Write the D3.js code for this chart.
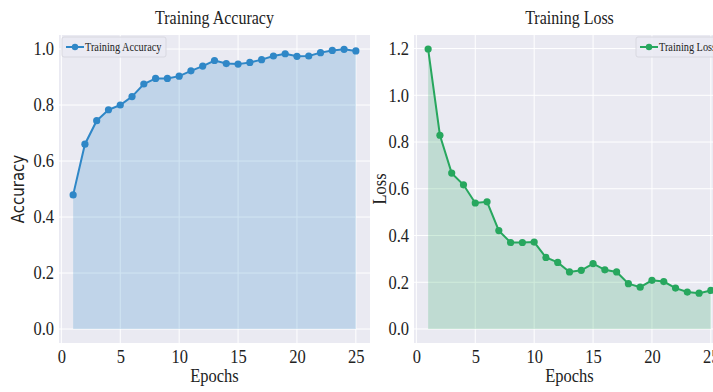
<!DOCTYPE html>
<html><head><meta charset="utf-8">
<script src="https://cdn.jsdelivr.net/npm/d3@7"></script>
<style>html,body{margin:0;padding:0;background:#fff;overflow:hidden}</style>
</head><body>
<svg id="chart" width="713" height="392"></svg>
<script>
const epochs = d3.range(1, 26);
const accuracy = [0.479,0.66,0.744,0.783,0.80,0.83,0.875,0.895,0.895,0.903,0.922,0.939,0.959,0.948,0.946,0.952,0.962,0.975,0.983,0.974,0.975,0.987,0.995,0.999,0.993];
const loss = [1.198,0.829,0.667,0.617,0.539,0.544,0.421,0.370,0.370,0.372,0.306,0.285,0.244,0.251,0.280,0.253,0.244,0.194,0.179,0.208,0.203,0.175,0.158,0.153,0.165];
const xTicks = [0,5,10,15,20,25];
const accTicks = [0.0,0.2,0.4,0.6,0.8,1.0];
const lossTicks = [0.0,0.2,0.4,0.6,0.8,1.0,1.2];

const svg = d3.select("#chart");
const SERIF = "'Liberation Serif','Times New Roman',serif";
const SY = 1.2;

function stretchText(g, x, y, txt, size, anchor, family, rotate) {
  const t = g.append("g").attr("transform", `translate(${x},${y})${rotate ? " rotate(-90)" : ""} scale(1,${SY})`)
    .append("text").attr("text-anchor", anchor).attr("font-family", family || SERIF)
    .attr("font-size", size).attr("fill", "#222").text(txt);
  return t;
}

function panel(o) {
  const g = svg.append("g");
  const x = d3.scaleLinear().domain([-0.2, 26.2]).range([o.left, o.left + 311]);
  const y = d3.scaleLinear().domain(o.ydom).range([343, 35]);
  g.append("rect").attr("x", o.left).attr("y", 35).attr("width", 311).attr("height", 308).attr("fill", "#eaeaf2");
  // grid
  g.selectAll(".gx").data(xTicks).join("line").attr("x1", d => x(d)).attr("x2", d => x(d))
    .attr("y1", 35).attr("y2", 343).attr("stroke", "#fff").attr("stroke-width", 1);
  g.selectAll(".gy").data(o.ticks).join("line").attr("y1", d => y(d)).attr("y2", d => y(d))
    .attr("x1", o.left).attr("x2", o.left + 311).attr("stroke", "#fff").attr("stroke-width", 1);
  const data = epochs.map((e, i) => [e, o.values[i]]);
  g.append("path").datum(data).attr("fill", o.color).attr("fill-opacity", 0.22)
    .attr("d", d3.area().x(d => x(d[0])).y0(y(0)).y1(d => y(d[1])));
  g.append("path").datum(data).attr("fill", "none").attr("stroke", o.color).attr("stroke-width", 2)
    .attr("d", d3.line().x(d => x(d[0])).y(d => y(d[1])));
  g.selectAll(".pt").data(data).join("circle").attr("cx", d => x(d[0])).attr("cy", d => y(d[1]))
    .attr("r", 3.6).attr("fill", o.color);
  // axes
  const ax = g.append("g").attr("transform", "translate(0,343)")
    .call(d3.axisBottom(x).tickValues(xTicks).tickSize(0).tickPadding(0).tickFormat(d3.format("d")));
  ax.select(".domain").remove();
  ax.selectAll("text").attr("font-family", SERIF).attr("font-size", 16.5).attr("fill", "#222")
    .attr("y", 0).attr("dy", "0.71em").attr("transform", `translate(0,6) scale(1,${SY})`);
  const ay = g.append("g").attr("transform", `translate(${o.left},0)`)
    .call(d3.axisLeft(y).tickValues(o.ticks).tickSize(0).tickPadding(5).tickFormat(d3.format(".1f")));
  ay.select(".domain").remove();
  ay.selectAll("text").attr("font-family", SERIF).attr("font-size", 16.5).attr("fill", "#222")
    .attr("transform", `scale(1,${SY})`).attr("dy", "0.3em");
  // title & labels
  stretchText(g, o.left + 155.5, 24, o.title, 16, "middle");
  stretchText(g, o.left + 155.5, 382, "Epochs", 16.5, "middle");
  stretchText(g, o.ylabX, 189, o.ylabel, o.ylabSize, "middle", o.ylabFont, true);
  // legend
  const lg = g.append("g").attr("transform", `translate(${o.legX},37)`);
  lg.append("rect").attr("width", o.legW).attr("height", 20).attr("rx", 2)
    .attr("fill", "#eaeaf2").attr("fill-opacity", 0.8).attr("stroke", "#d8d8e0");
  lg.append("line").attr("x1", 4).attr("x2", 22).attr("y1", 10).attr("y2", 10).attr("stroke", o.color).attr("stroke-width", 2);
  lg.append("circle").attr("cx", 13).attr("cy", 10).attr("r", 3.2).attr("fill", o.color);
  stretchText(lg, 23, 13.5, o.title, 10.3, "start");
}

panel({left: 59, ydom: [-0.05, 1.05], ticks: accTicks, values: accuracy, color: "#2f87c7",
  title: "Training Accuracy", ylabel: "Accuracy", ylabX: 24, ylabSize: 15, ylabFont: "'DejaVu Sans',sans-serif",
  legX: 62, legW: 104});
panel({left: 414, ydom: [-0.06, 1.258], ticks: lossTicks, values: loss, color: "#27a75e",
  title: "Training Loss", ylabel: "Loss", ylabX: 386, ylabSize: 16.5, ylabFont: SERIF,
  legX: 636, legW: 86});
</script>
</body></html>
